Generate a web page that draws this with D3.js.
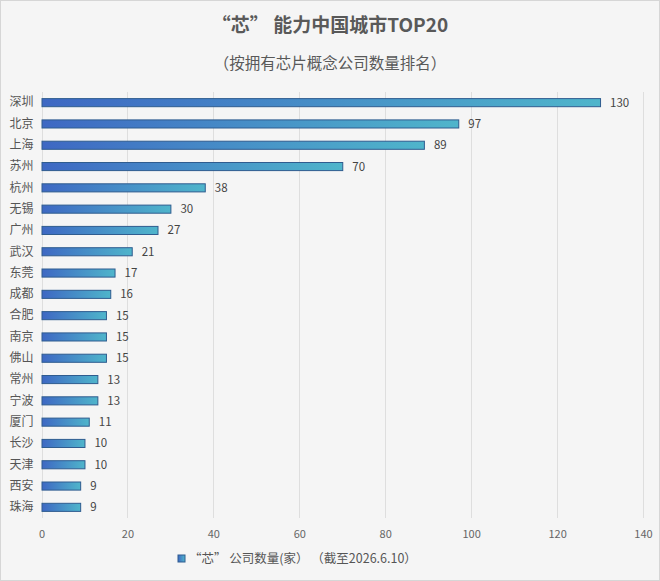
<!DOCTYPE html>
<html>
<head>
<meta charset="utf-8">
<script src="https://cdn.jsdelivr.net/npm/d3@7"></script>
<style>
  body { margin: 0; background: #fff; }
  svg { display: block; font-family: "Noto Sans CJK SC", "Noto Sans", sans-serif; }
</style>
</head>
<body>
<svg id="chart" width="660" height="581"></svg>
<script>
// data
const cities = ["深圳", "北京", "上海", "苏州", "杭州", "无锡", "广州", "武汉", "东莞", "成都",
                "合肥", "南京", "佛山", "常州", "宁波", "厦门", "长沙", "天津", "西安", "珠海"];
const counts = [130, 97, 89, 70, 38, 30, 27, 21, 17, 16, 15, 15, 15, 13, 13, 11, 10, 10, 9, 9];
const xTicks = [0, 20, 40, 60, 80, 100, 120, 140];

const titleText = "“芯” 能力中国城市TOP20";
const subtitleText = "（按拥有芯片概念公司数量排名）";
const legendText = "“芯” 公司数量(家） （截至2026.6.10）";

const width = 660, height = 581;
const margin = { top: 92, right: 17, bottom: 63, left: 41.5 };

const svg = d3.select("#chart");

// background panel
svg.append("rect")
  .attr("x", 0.5).attr("y", 0.5)
  .attr("width", width - 1).attr("height", height - 1)
  .attr("fill", "#f5f5f5")
  .attr("stroke", "#d6d6d6");

// per-bar horizontal gradient
const defs = svg.append("defs");
const grad = defs.append("linearGradient")
  .attr("id", "barGrad")
  .attr("x1", "0%").attr("x2", "100%")
  .attr("y1", "0%").attr("y2", "0%");
grad.append("stop").attr("offset", "0%").attr("stop-color", "#3e68c3");
grad.append("stop").attr("offset", "100%").attr("stop-color", "#4fb5cb");

const xScale = d3.scaleLinear()
  .domain([0, 140])
  .range([margin.left, width - margin.right]);

const yScale = d3.scaleBand()
  .domain(cities)
  .range([margin.top, height - margin.bottom])
  .paddingInner(0.62)
  .paddingOuter(0.31);

// vertical gridlines
svg.append("g")
  .selectAll("line")
  .data(xTicks)
  .enter()
  .append("line")
  .attr("x1", d => Math.round(xScale(d)) + 0.5)
  .attr("x2", d => Math.round(xScale(d)) + 0.5)
  .attr("y1", margin.top)
  .attr("y2", height - margin.bottom)
  .attr("stroke", "#dedede")
  .attr("stroke-width", 1);

// x axis labels
const xAxis = d3.axisBottom(xScale)
  .tickValues(xTicks)
  .tickSize(0)
  .tickPadding(8);
const gx = svg.append("g")
  .attr("transform", `translate(0,${height - margin.bottom + 4})`)
  .call(xAxis);
gx.select(".domain").remove();
gx.selectAll("text")
  .attr("fill", "#666")
  .style("font-size", "11px")
  .style("font-family", "\"Noto Sans CJK SC\", sans-serif");

// y axis labels (categories)
const yAxis = d3.axisLeft(yScale).tickSize(0).tickPadding(8);
const gy = svg.append("g")
  .attr("transform", `translate(${margin.left},0)`)
  .call(yAxis);
gy.select(".domain").remove();
gy.selectAll("text")
  .attr("fill", "#555")
  .style("font-size", "12px")
  .style("font-family", "\"Noto Sans CJK SC\", sans-serif");

// bars
svg.append("g")
  .selectAll("rect")
  .data(counts)
  .enter()
  .append("rect")
  .attr("x", xScale(0) + 0.5)
  .attr("y", (d, i) => yScale(cities[i]))
  .attr("width", d => xScale(d) - xScale(0))
  .attr("height", yScale.bandwidth())
  .attr("fill", "url(#barGrad)")
  .style("stroke", "#2f5c8f")
  .style("stroke-width", 1);

// value labels
svg.append("g")
  .selectAll("text")
  .data(counts)
  .enter()
  .append("text")
  .attr("x", d => xScale(d) + 10)
  .attr("y", (d, i) => yScale(cities[i]) + yScale.bandwidth() / 2)
  .attr("dy", "0.35em")
  .attr("fill", "#444")
  .style("font-size", "11.5px")
  .text(d => d);

// titles
svg.append("text")
  .attr("x", 330).attr("y", 32)
  .attr("text-anchor", "middle")
  .attr("fill", "#595959")
  .style("font-size", "19px")
  .style("font-weight", "bold")
  .text(titleText);

svg.append("text")
  .attr("x", 330).attr("y", 69)
  .attr("text-anchor", "middle")
  .attr("fill", "#595959")
  .style("font-size", "15.5px")
  .text(subtitleText);

// legend
const legend = svg.append("g").attr("transform", "translate(178,559)");
legend.append("rect")
  .attr("x", 0).attr("y", -4)
  .attr("width", 7).attr("height", 7)
  .attr("fill", "url(#barGrad)")
  .style("stroke", "#2f5c8f");
legend.append("text")
  .attr("x", 11).attr("y", 0)
  .attr("dy", "0.35em")
  .attr("fill", "#555")
  .style("font-size", "12.5px")
  .text(legendText);
</script>
</body>
</html>
